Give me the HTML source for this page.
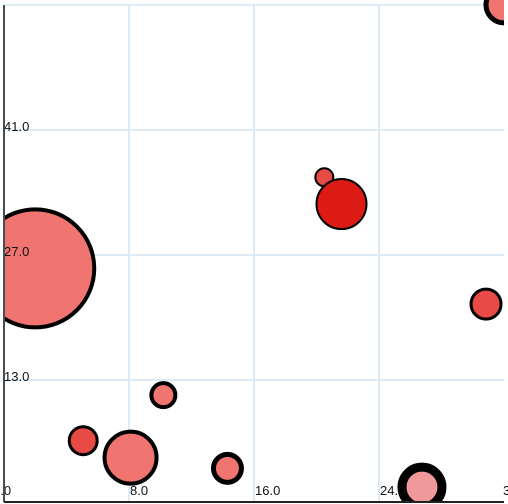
<!DOCTYPE html>
<html><head><meta charset="utf-8"><style>
html,body{margin:0;padding:0;background:#fff;}
svg{display:block;font-family:"Liberation Sans",sans-serif;}
</style></head><body>
<svg id="chart" width="508" height="504" viewBox="0 0 508 504">
<defs><clipPath id="plot"><rect x="4" y="0" width="500" height="502"/></clipPath></defs>
<g id="grid"></g>
<g id="bubbles" clip-path="url(#plot)"></g>
<g id="labels"></g>
<line x1="4" y1="5" x2="4" y2="502" stroke="#444c55" stroke-width="2"/>
<line x1="4" y1="502" x2="504" y2="502" stroke="#222" stroke-width="2"/>
</svg>
<script>
const xTicks = [0, 8, 16, 24, 32];
const yTicks = [13, 27, 41, 55];
const bx = [2, 5.07, 8.1, 10.2, 14.3, 26.75, 20.5, 21.6, 30.85, 32.0];
const by = [25.5, 6.2, 4.3, 11.3, 3.1, 1.0, 35.7, 32.7, 21.5, 55.0];
const br = [59, 14, 26, 12, 14, 20, 9, 25, 15, 18];
const bstroke = [4, 3, 4, 4, 5, 9, 2, 2, 3, 5];
const bfill = ["#f07470","#e84a45","#f07470","#f07470","#f07470","#f0989a","#e84a45","#dc1c14","#e84a45","#f07470"];
const NS = "http://www.w3.org/2000/svg";
const X = v => 4 + v * 15.625;
const Y = v => 505 - (v + 1) * 8.93;
const grid = document.getElementById('grid');
const labels = document.getElementById('labels');
const bub = document.getElementById('bubbles');
function mk(t, a){const e=document.createElementNS(NS,t);for(const k in a)e.setAttribute(k,a[k]);return e;}
xTicks.forEach(t=>{
  if(t>0 && t<32){
    const l=mk('line',{x1:X(t),x2:X(t),y1:5,y2:502,stroke:'#dcebf5','stroke-width':2});
    
    
    grid.appendChild(l);
  }
  const tx=mk('text',{x:t===0?X(t)-11:(t===32?X(t)-1:X(t)+1),y:495,'font-size':13,fill:'#111'});
  
  
  tx.textContent=t.toFixed(1);
  labels.appendChild(tx);
});
yTicks.forEach(t=>{
  const l=mk('line',{x1:4,x2:504,y1:Y(t),y2:Y(t),stroke:'#dcebf5','stroke-width':2});
  
  
  grid.appendChild(l);
  const tx=mk('text',{x:4,y:t===55?Y(t)-7:Y(t)+1,'font-size':13,fill:'#111'});
  
  
  tx.textContent=t.toFixed(1);
  labels.appendChild(tx);
});
bx.forEach((v,i)=>{
  const c=mk('circle',{cx:X(v),cy:Y(by[i]),r:br[i],fill:bfill[i],stroke:'#000','stroke-width':bstroke[i]});
  
  
  bub.appendChild(c);
});
</script>
</body></html>
